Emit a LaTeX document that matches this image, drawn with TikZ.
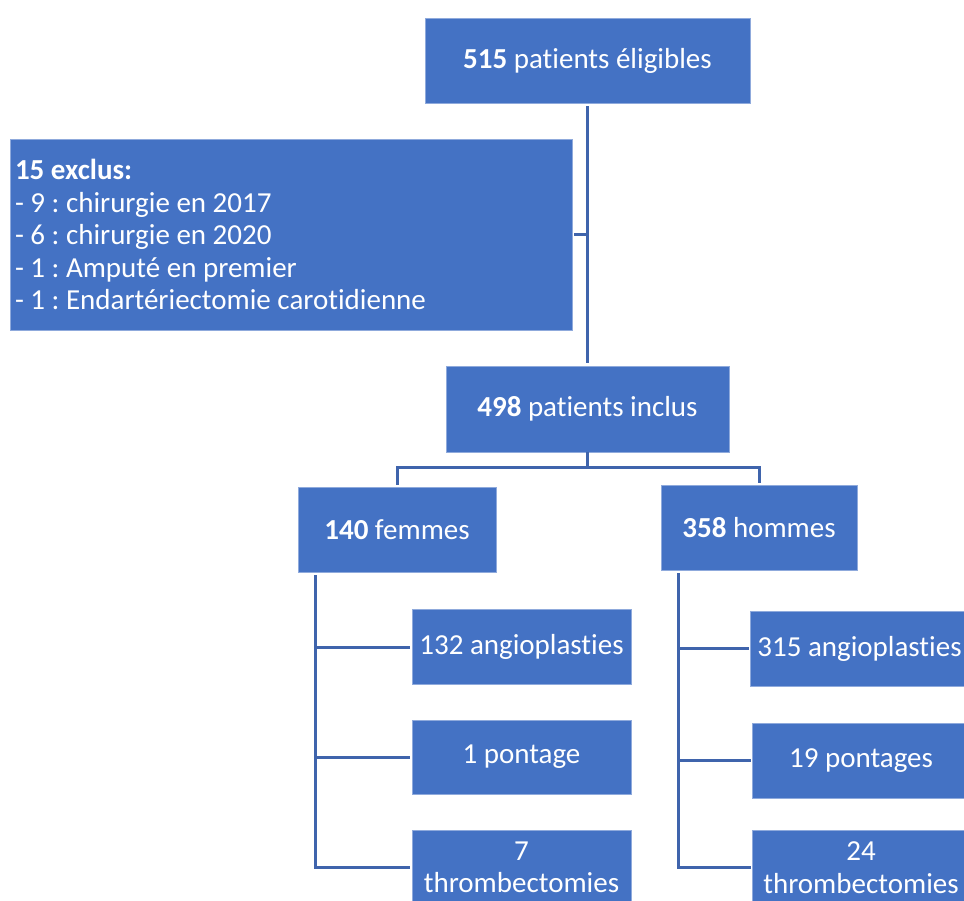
\documentclass[tikz,border=0pt]{standalone}
\usepackage{fontspec}
\setmainfont{Carlito}[Ligatures=NoCommon]
\usetikzlibrary{positioning}

\definecolor{boxblue}{HTML}{4472C4}
\definecolor{lineblue}{HTML}{3F64AC}
\definecolor{rimblue}{HTML}{8FAADC}

\begin{document}
\frenchspacing
\begin{tikzpicture}[x=1pt,y=-1pt,
  box/.style={rectangle, fill=boxblue, draw=rimblue, line width=0.8pt, text=white,
    align=center, inner sep=0pt, font=\fontsize{29}{32.5}\selectfont},
  link/.style={draw=lineblue, line width=3pt}]

\clip (0,0) rectangle (964,900);

% flux principal
\node[box, minimum width=325pt, minimum height=85pt] (elig) at (587.5,60.5) {\textbf{515} patients éligibles};
\node[box, minimum height=191pt, text width=552pt, inner xsep=5pt, align=flush left] (excl) at (291,234.5)
  {\textbf{15 exclus:}\\- 9 : chirurgie en 2017\\- 6 : chirurgie en 2020\\- 1 : Amputé en premier\\- 1 : Endartériectomie carotidienne};
\node[box, minimum width=283pt, minimum height=86pt] (incl) at (587.5,409) {\textbf{498} patients inclus};

\node[box, minimum width=198pt, minimum height=85pt] (fem) at (397,529.5) {\textbf{140} femmes};
\node[box, minimum width=196pt, minimum height=85pt] (hom) at (759,527.5) {\textbf{358} hommes};

% femmes
\node[box, minimum width=219pt, minimum height=75pt] (fa) at (521.5,647) {132 angioplasties};
\node[box, minimum width=219pt, minimum height=74pt] (fp) at (521.5,757) {1 pontage};
\node[box, minimum width=219pt, minimum height=75pt] (ft) at (521.5,867.5) {7\\thrombectomies};

% hommes
\node[box, minimum width=219pt, minimum height=75pt] (ha) at (859.5,648.5) {315 angioplasties};
\node[box, minimum width=218pt, minimum height=75pt] (hp) at (861,760.5) {19 pontages};
\node[box, minimum width=218pt, minimum height=75pt] (ht) at (861,867.5) {24\\thrombectomies};

\draw[link, shorten <=3pt, shorten >=3pt] (elig) -- (incl);
\draw[link, shorten <=2pt] (excl.east) -- (excl.east -| elig.south);

\coordinate (split) at ([yshift=-15pt]incl.south);
\draw[link] (incl.south) -- (split) -| ([yshift=2pt]fem.north);
\draw[link] (split) -| ([yshift=2pt]hom.north);

\coordinate (fk) at ([xshift=18pt,yshift=-3pt]fem.south west);
\draw[link, shorten >=2pt] (fk) |- (fa.west);
\draw[link, shorten >=2pt] (fk) |- (fp.west);
\draw[link, shorten >=2pt] (fk) |- (ft.west);

\coordinate (hk) at ([xshift=18pt,yshift=-3pt]hom.south west);
\draw[link, shorten >=1pt] (hk) |- (ha.west);
\draw[link, shorten >=1pt] (hk) |- (hp.west);
\draw[link, shorten >=1pt] (hk) |- (ht.west);

\end{tikzpicture}
\end{document}
